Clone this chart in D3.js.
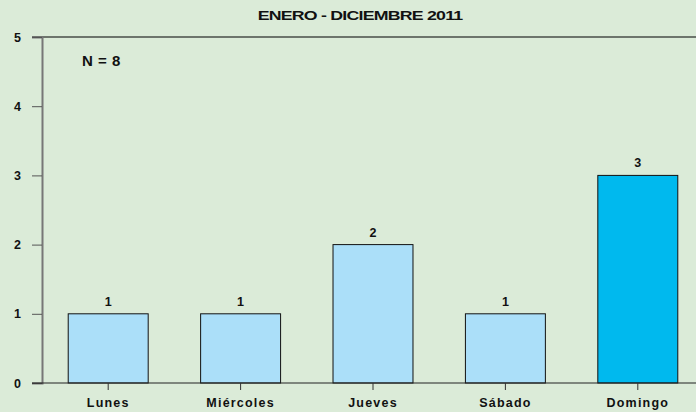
<!DOCTYPE html>
<html>
<head>
<meta charset="utf-8">
<script src="https://cdn.jsdelivr.net/npm/d3@7"></script>
<style>
  body { margin: 0; background: #dbebd8; }
  svg { display: block; font-family: "Liberation Sans", Arial, sans-serif; font-weight: bold; }
</style>
</head>
<body>
<div id="chart"></div>
<script>
const days = ["Lunes", "Miércoles", "Jueves", "Sábado", "Domingo"];
const counts = [1, 1, 2, 1, 3];
const yTicks = [0, 1, 2, 3, 4, 5];
const title = "ENERO - DICIEMBRE 2011";
const total = "N = 8";

const width = 696,
    height = 412;

const svg = d3.select("#chart").append("svg")
    .attr("width", width)
    .attr("height", height);

svg.append("rect")
    .attr("width", width)
    .attr("height", height)
    .attr("fill", "#dbebd8");

const x = d3.scaleBand()
    .domain(days)
    .range([42, 704])
    .paddingInner(0.396)
    .paddingOuter(0.198);

const y = d3.scaleLinear()
    .domain([0, 5])
    .range([383, 37]);

// title - glyphs are wide and tightly packed in the original
const titleText = svg.append("text")
    .attr("x", 0)
    .attr("y", 0)
    .attr("text-anchor", "middle")
    .attr("font-size", 13.5)
    .attr("letter-spacing", -0.6)
    .attr("fill", "#111")
    .text(title);
const tw = titleText.node().getComputedTextLength();
titleText.attr("transform", "translate(360,20) scale(" + (205 / tw) + ",1)");

// top frame line
svg.append("line")
    .attr("x1", 32).attr("x2", width)
    .attr("y1", y(5)).attr("y2", y(5))
    .attr("stroke", "#000")
    .attr("stroke-width", 1.2);

// y axis
const yAxis = svg.append("g")
    .attr("transform", "translate(42,0)")
    .call(d3.axisLeft(y).tickValues(yTicks).tickSize(10).tickFormat(d3.format("d")));
yAxis.select(".domain").attr("stroke", "#777").attr("stroke-width", 2);
yAxis.selectAll(".tick line").attr("stroke", "#555");
yAxis.selectAll(".tick text")
    .attr("x", -21)
    .attr("font-size", 12.5)
    .attr("font-family", "Liberation Sans, Arial, sans-serif")
    .attr("font-weight", "bold")
    .attr("fill", "#111");

// bars
svg.append("g")
    .selectAll("rect")
    .data(counts)
    .enter().append("rect")
    .attr("x", function(d, i) { return x(days[i]); })
    .attr("y", function(d) { return y(d); })
    .attr("width", x.bandwidth())
    .attr("height", function(d) { return y(0) - y(d); })
    .attr("fill", function(d, i) { return days[i] === "Domingo" ? "#00b9ee" : "#abdff9"; })
    .attr("stroke", "#111")
    .attr("stroke-width", 1);

// value labels
svg.append("g")
    .selectAll("text")
    .data(counts)
    .enter().append("text")
    .attr("x", function(d, i) { return x(days[i]) + x.bandwidth() / 2; })
    .attr("y", function(d) { return y(d) - 8; })
    .attr("text-anchor", "middle")
    .attr("font-size", 12.5)
    .attr("fill", "#111")
    .text(function(d) { return d; });

// baseline
svg.append("line")
    .attr("x1", 32).attr("x2", width)
    .attr("y1", y(0)).attr("y2", y(0))
    .attr("stroke", "#222")
    .attr("stroke-width", 1.2);

// x axis
const xAxis = svg.append("g")
    .attr("transform", "translate(0," + y(0) + ")")
    .call(d3.axisBottom(x).tickSize(7).tickSizeOuter(0));
xAxis.select(".domain").remove();
xAxis.selectAll(".tick line").attr("stroke", "#333");
xAxis.selectAll(".tick text")
    .attr("y", 15)
    .attr("font-size", 12.5)
    .attr("letter-spacing", 1.2)
    .attr("font-family", "Liberation Sans, Arial, sans-serif")
    .attr("font-weight", "bold")
    .attr("fill", "#111");

// N label
svg.append("text")
    .attr("x", 82)
    .attr("y", 66)
    .attr("font-size", 15)
    .attr("letter-spacing", 0.5)
    .attr("fill", "#111")
    .text(total);
</script>
</body>
</html>
